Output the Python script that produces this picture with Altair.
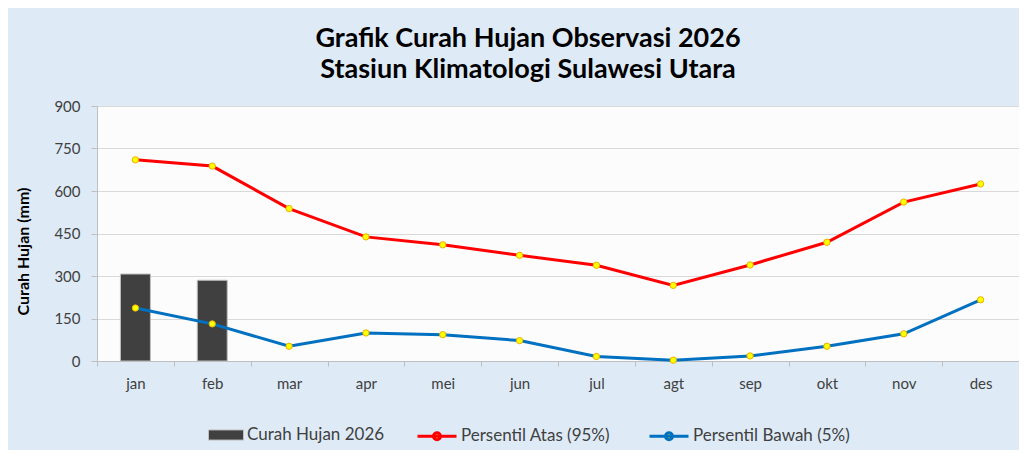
import altair as alt
import pandas as pd

months = ["jan", "feb", "mar", "apr", "mei", "jun", "jul", "agt", "sep", "okt", "nov", "des"]
curah_2026 = [307, 285, None, None, None, None, None, None, None, None, None, None]
persentil_atas = [710, 688, 538, 438, 410, 373, 338, 267, 339, 419, 561, 625]
persentil_bawah = [187, 131, 52, 99, 93, 72, 16, 3, 18, 52, 96, 216]

BAR_NAME = "Curah Hujan 2026"
ATAS_NAME = "Persentil Atas (95%)"
BAWAH_NAME = "Persentil Bawah (5%)"

bars_df = pd.DataFrame({"bulan": months, "nilai": curah_2026, "seri": BAR_NAME})
lines_df = pd.DataFrame({
    "bulan": months * 2,
    "nilai": persentil_atas + persentil_bawah,
    "seri": [ATAS_NAME] * 12 + [BAWAH_NAME] * 12,
})

FONT = "Lato"

x_enc = alt.X(
    "bulan:N",
    sort=months,
    title=None,
    scale=alt.Scale(paddingInner=0, paddingOuter=0),
    axis=alt.Axis(
        labelAngle=0, tickBand="extent", grid=False, tickSize=5,
        labelPadding=10, labelFontSize=15, labelColor="#404040", labelFont=FONT,
        domainColor="#BFBFBF", tickColor="#BFBFBF",
    ),
)
y_scale = alt.Scale(domain=[0, 900], nice=False)
y_axis = alt.Axis(
    values=[0, 150, 300, 450, 600, 750, 900], grid=True, gridColor="#D9D9D9",
    tickSize=6, labelPadding=11, labelFontSize=15, labelColor="#404040", labelFont=FONT,
    domainColor="#BFBFBF", tickColor="#BFBFBF",
    title="Curah Hujan (mm)", titleFontSize=16, titleFont=FONT, titleFontWeight="bold",
    titleColor="#000000", titlePadding=22, titleY=145,
)

bar = alt.Chart(bars_df).mark_bar(
    width=alt.RelativeBandSize(0.39), stroke="#BFBFBF", strokeWidth=1
).encode(
    x=x_enc,
    y=alt.Y("nilai:Q", scale=y_scale, axis=y_axis),
    fill=alt.Fill(
        "seri:N",
        scale=alt.Scale(domain=[BAR_NAME], range=["#404040"]),
        legend=alt.Legend(
            title=None, orient="none", legendX=111, legendY=311,
            symbolType="M-1,-0.29H1V0.29H-1Z", symbolSize=1225,
            symbolStrokeColor="#BFBFBF", symbolStrokeWidth=1,
            labelFontSize=17, labelFont=FONT, labelColor="#404040", labelOffset=3,
        ),
    ),
)

line = alt.Chart(lines_df).mark_line(strokeWidth=3).encode(
    x=alt.X("bulan:N", sort=months),
    y=alt.Y("nilai:Q", scale=y_scale),
    stroke=alt.Stroke(
        "seri:N",
        scale=alt.Scale(domain=[ATAS_NAME, BAWAH_NAME], range=["#FF0000", "#0070C0"]),
        legend=alt.Legend(
            title=None, orient="none", legendX=319, legendY=309, direction="horizontal",
            symbolType="M-1,0H1M0.18,0A0.18,0.18 0 1,1 -0.18,0A0.18,0.18 0 1,1 0.18,0Z",
            symbolSize=1521, symbolStrokeWidth=3, symbolFillColor="#FFFF00",
            labelFontSize=17, labelFont=FONT, labelColor="#404040", labelOffset=3,
            columnPadding=32,
        ),
    ),
    detail="seri:N",
)

points = alt.Chart(lines_df).mark_point(
    filled=True, fill="#FFFF00", stroke="#E8B000", strokeWidth=1, size=40, opacity=1
).encode(
    x=alt.X("bulan:N", sort=months),
    y=alt.Y("nilai:Q", scale=y_scale),
)

chart = alt.layer(bar, line, points).resolve_scale(fill="independent", stroke="independent").properties(
    width=922,
    height=255,
    autosize="none",
    padding={"left": 89, "top": 98, "right": 0, "bottom": 89},
    background="#DEEBF7",
    title=alt.TitleParams(
        text=["Grafik Curah Hujan Observasi 2026", "Stasiun Klimatologi Sulawesi Utara"],
        fontSize=27, font=FONT, fontWeight="bold", color="#000000",
        anchor="middle", lineHeight=31, offset=15, dx=-30,
    ),
).configure_view(fill="#FCFCFC", strokeWidth=0)

chart.save("out.html", embed_options={"renderer": "svg", "actions": False})
